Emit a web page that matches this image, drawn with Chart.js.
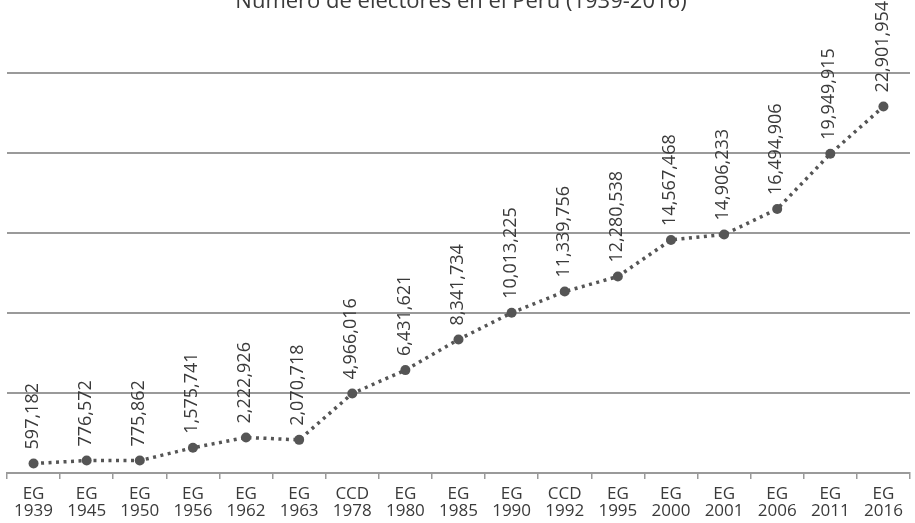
<!DOCTYPE html>
<html>
<head>
<meta charset="utf-8">
<script src="https://cdn.jsdelivr.net/npm/chart.js@4/dist/chart.umd.min.js"></script>
<style>
  html, body { margin: 0; padding: 0; background: #fff; }
  #wrap { width: 915px; height: 523px; position: relative; overflow: hidden; }
</style>
</head>
<body>
<div id="wrap"><canvas id="chart" width="915" height="523"></canvas></div>
<script>
// election labels (two lines each)
var tipos = ['EG','EG','EG','EG','EG','EG','CCD','EG','EG','EG','CCD','EG','EG','EG','EG','EG','EG']
var anios = ['1939','1945','1950','1956','1962','1963','1978','1980','1985','1990','1992','1995','2000','2001','2006','2011','2016']
var electores = [597182, 776572, 775862, 1575741, 2222926, 2070718, 4966016, 6431621, 8341734,
                 10013225, 11339756, 12280538, 14567468, 14906233, 16494906, 19949915, 22901954]
var titulo = 'Número de electores en el Perú (1939-2016)'
var yMax = 25000000
var yStep = 5000000

var labels = tipos.map(function (t, i) { return [t, anios[i]] })
var fuente = '"Open Sans", sans-serif'

// rotated value labels + cut-off title
var etiquetas = {
  id: 'etiquetas',
  afterDatasetsDraw: function (chart) {
    var ctx = chart.ctx
    var meta = chart.getDatasetMeta(0)
    ctx.save()
    ctx.fillStyle = '#3a3a3a'
    ctx.font = '18px ' + fuente
    ctx.textAlign = 'left'
    ctx.textBaseline = 'middle'
    meta.data.forEach(function (pt, i) {
      ctx.save()
      ctx.translate(pt.x - 1, pt.y - 14)
      ctx.rotate(-Math.PI / 2)
      ctx.fillText(electores[i].toLocaleString('en-US'), 0, 0)
      ctx.restore()
    })
    ctx.font = '22px ' + fuente
    ctx.textAlign = 'center'
    ctx.textBaseline = 'alphabetic'
    ctx.fillText(titulo, 461, 8)
    ctx.restore()
  }
}

var chart = new Chart(document.getElementById('chart'), {
  type: 'line',
  data: {
    labels: labels,
    datasets: [{
      data: electores,
      borderColor: '#555555',
      borderWidth: 3.5,
      borderDash: [3, 4.5],
      pointRadius: 5,
      pointBackgroundColor: '#555555',
      pointBorderColor: '#555555',
      pointBorderWidth: 0,
      tension: 0
    }]
  },
  options: {
    responsive: false,
    animation: false,
    layout: { padding: { top: 73, left: 7, right: 2, bottom: 0 } },
    plugins: {
      legend: { display: false },
      title: { display: false },
      tooltip: { enabled: false }
    },
    scales: {
      x: {
        offset: true,
        grid: {
          offset: true,
          drawOnChartArea: false,
          drawTicks: true,
          tickLength: 6,
          color: '#9a9a9a',
          lineWidth: 1.5
        },
        border: { display: true, color: '#9a9a9a', width: 2 },
        ticks: {
          color: '#3a3a3a',
          font: { family: fuente, size: 17, lineHeight: 0.97 },
          maxRotation: 0,
          autoSkip: false,
          padding: 7
        },
        afterFit: function (scale) { scale.height = 50 }
      },
      y: {
        min: 0,
        max: yMax,
        ticks: { display: false, stepSize: yStep },
        grid: { color: '#9a9a9a', lineWidth: 2, drawTicks: false },
        border: { display: false },
        afterFit: function (scale) { scale.width = 0 }
      }
    }
  },
  plugins: [etiquetas]
})
</script>
</body>
</html>
